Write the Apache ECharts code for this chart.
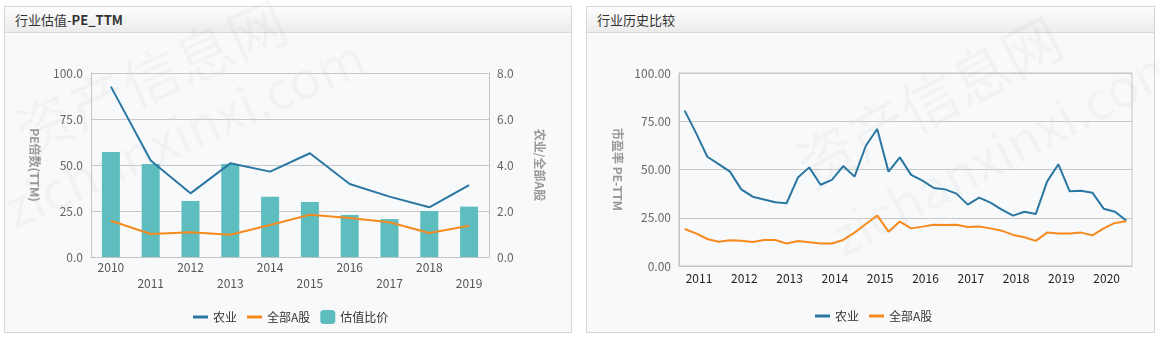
<!DOCTYPE html>
<html>
<head>
<meta charset="utf-8">
<script src="https://cdn.jsdelivr.net/npm/echarts@6/dist/echarts.min.js"></script>
<style>
  html, body { margin: 0; padding: 0; background: #ffffff; }
  body { width: 1159px; height: 339px; position: relative; overflow: hidden;
         font-family: "Microsoft YaHei", "Noto Sans CJK SC", "Noto Sans", sans-serif; }
  .panel { position: absolute; border: 1px solid #d6d6d6; background: #f8f9fb; box-sizing: border-box; }
  .panel .head { position: absolute; left: 0; right: 0; top: 0; height: 25px;
                 background: linear-gradient(#fdfdfd, #ececec); border-bottom: 1px solid #d9d9d9;
                 font-size: 13px; color: #333; line-height: 25px; padding-left: 10px; }
  .wm { position: absolute; color: rgba(0,0,0,0.028); white-space: nowrap; transform-origin: 0 0;
        font-family: "Noto Sans CJK SC", "Noto Sans", sans-serif; pointer-events: none; }
  #chart { position: absolute; left: 0; top: 0; width: 1159px; height: 339px; }
</style>
</head>
<body>
<div class="panel" style="left:4px; top:6px; width:568px; height:327px;">
  <div class="head">行业估值-<b>PE_TTM</b></div>
</div>
<div class="panel" style="left:586px; top:6px; width:569px; height:327px;">
  <div class="head">行业历史比较</div>
</div>
<div class="wm" style="left:0px; top:95px; font-size:58px; transform:rotate(-24deg);">资产信息网</div>
<div class="wm" style="left:-10px; top:175px; font-size:52px; transform:rotate(-24deg);">zichanxinxi.com</div>
<div class="wm" style="left:780px; top:130px; font-size:58px; transform:rotate(-28deg);">资产信息网</div>
<div class="wm" style="left:815px; top:205px; font-size:52px; transform:rotate(-28deg);">zichanxinxi.com</div>
<div id="chart"></div>
<script>
// Annual valuation (left panel)
const valYears = ['2010', '2011', '2012', '2013', '2014', '2015', '2016', '2017', '2018', '2019'];
const valAgri = [92.6, 52.4, 34.6, 50.9, 46.4, 56.4, 39.7, 32.8, 27.0, 39.0];
const valAllA = [19.7, 12.5, 13.4, 12.1, 17.4, 23.0, 21.2, 18.9, 13.0, 17.0];
const valRatio = [4.57, 4.04, 2.43, 4.04, 2.62, 2.39, 1.83, 1.65, 2.00, 2.19];

// Quarterly history (right panel)
const histQuarters = [
  '2011-03', '2011-06', '2011-09', '2011-12', '2012-03', '2012-06', '2012-09', '2012-12',
  '2013-03', '2013-06', '2013-09', '2013-12', '2014-03', '2014-06', '2014-09', '2014-12',
  '2015-03', '2015-06', '2015-09', '2015-12', '2016-03', '2016-06', '2016-09', '2016-12',
  '2017-03', '2017-06', '2017-09', '2017-12', '2018-03', '2018-06', '2018-09', '2018-12',
  '2019-03', '2019-06', '2019-09', '2019-12', '2020-03', '2020-06', '2020-09', '2020-12'
];
const histAgri = [
  80.5, 69.0, 56.6, 52.8, 48.9, 39.7, 35.9, 34.5, 33.0, 32.5,
  45.8, 51.1, 42.1, 44.6, 51.8, 46.3, 62.3, 71.0, 48.9, 56.3,
  47.2, 44.2, 40.4, 39.7, 37.5, 31.8, 35.4, 32.8, 29.2, 26.1,
  28.1, 26.9, 43.7, 52.7, 38.7, 39.0, 38.0, 29.7, 28.1, 23.5
];
const histAllA = [
  19.2, 16.9, 14.0, 12.6, 13.3, 13.1, 12.4, 13.5, 13.5, 11.7,
  13.0, 12.3, 11.6, 11.7, 13.5, 17.3, 21.8, 26.2, 17.8, 23.0,
  19.5, 20.4, 21.4, 21.2, 21.4, 20.2, 20.5, 19.5, 18.3, 16.1,
  14.9, 13.0, 17.3, 16.9, 16.8, 17.3, 15.9, 19.5, 22.3, 23.2
];

const BLUE = '#2a77a2';
const ORANGE = '#f68a1e';
const TEAL = '#5ebdbe';
const AXIS = '#c4c4c4';
const FONT = '"Microsoft YaHei", "Noto Sans CJK SC", "Noto Sans", sans-serif';
const LINE_ICON = 'path://M0,0H15V3H0Z';

const chart = echarts.init(document.getElementById('chart'), null, { renderer: 'canvas' });

const nameStyle = { color: '#999', fontSize: 12, fontWeight: 'bold', fontFamily: FONT };

chart.setOption({
  backgroundColor: 'transparent',
  animation: false,
  textStyle: { fontFamily: FONT },
  grid: [
    { left: 91, top: 73, width: 398, height: 184 },
    { left: 679, top: 73, width: 453, height: 193, show: true,
      borderColor: AXIS, borderWidth: 1, backgroundColor: 'transparent' }
  ],
  legend: [
    { left: 188, top: 305, itemWidth: 15, itemHeight: 14, itemGap: 10, symbolKeepAspect: true,
      data: [{ name: '农业', icon: LINE_ICON }, { name: '全部A股', icon: LINE_ICON }, { name: '估值比价', icon: 'roundRect' }],
      textStyle: { color: '#333', fontSize: 12 } },
    { left: 810, top: 305, itemWidth: 15, itemHeight: 14, itemGap: 10, symbolKeepAspect: true,
      data: [{ name: '农业', icon: LINE_ICON }, { name: '全部A股', icon: LINE_ICON }],
      textStyle: { color: '#333', fontSize: 12 } }
  ],
  xAxis: [
    {
      gridIndex: 0, type: 'category', data: valYears, boundaryGap: true,
      axisLine: { lineStyle: { color: AXIS } },
      axisTick: { alignWithLabel: true, length: 5, interval: (i) => i % 2 === 1, lineStyle: { color: AXIS } },
      axisLabel: { interval: 0, color: '#555', fontSize: 12, lineHeight: 16, margin: 2,
                   formatter: (v, i) => (i % 2 ? '\n' + v : v) }
    },
    {
      gridIndex: 1, type: 'category', data: histQuarters, boundaryGap: true,
      axisLine: { lineStyle: { color: AXIS } },
      axisTick: { alignWithLabel: true, length: 5, interval: (i) => i % 4 === 3, lineStyle: { color: AXIS } },
      axisLabel: { interval: (i) => i % 4 === 1, color: '#222', fontSize: 12, margin: 6,
                   padding: [0, 0, 0, 6], formatter: (v) => v.slice(0, 4) }
    }
  ],
  yAxis: [
    {
      gridIndex: 0, type: 'value', min: 0, max: 100, interval: 25,
      name: 'PE倍数(TTM)', nameLocation: 'middle', nameRotate: -90, nameGap: 50, nameTextStyle: nameStyle,
      axisLine: { show: true, lineStyle: { color: AXIS } },
      axisTick: { show: false },
      splitLine: { lineStyle: { color: '#c8c8c8' } },
      axisLabel: { color: '#666', fontSize: 12, margin: 8, formatter: (v) => v.toFixed(1) }
    },
    {
      gridIndex: 0, type: 'value', position: 'right', min: 0, max: 8, interval: 2,
      name: '农业/全部A股', nameLocation: 'middle', nameRotate: -90, nameGap: 45, nameTextStyle: nameStyle,
      axisLine: { show: true, lineStyle: { color: AXIS } },
      axisTick: { show: false },
      splitLine: { show: false },
      axisLabel: { color: '#666', fontSize: 12, margin: 8, formatter: (v) => v.toFixed(1) }
    },
    {
      gridIndex: 1, type: 'value', min: 0, max: 100, interval: 25,
      name: '市盈率 PE-TTM', nameLocation: 'middle', nameRotate: -90, nameGap: 55, nameTextStyle: nameStyle,
      axisLine: { show: true, lineStyle: { color: AXIS } },
      axisTick: { show: false },
      splitLine: { lineStyle: { color: '#c8c8c8' } },
      axisLabel: { color: '#666', fontSize: 12, margin: 8, formatter: (v) => v.toFixed(2) }
    }
  ],
  series: [
    { name: '估值比价', type: 'bar', xAxisIndex: 0, yAxisIndex: 1, data: valRatio,
      barWidth: 18, itemStyle: { color: TEAL }, z: 1 },
    { name: '农业', type: 'line', xAxisIndex: 0, yAxisIndex: 0, data: valAgri,
      symbol: 'none', itemStyle: { color: BLUE }, lineStyle: { color: BLUE, width: 2 }, z: 3 },
    { name: '全部A股', type: 'line', xAxisIndex: 0, yAxisIndex: 0, data: valAllA,
      symbol: 'none', itemStyle: { color: ORANGE }, lineStyle: { color: ORANGE, width: 2 }, z: 3 },
    { name: '农业', type: 'line', xAxisIndex: 1, yAxisIndex: 2, data: histAgri,
      symbol: 'none', itemStyle: { color: BLUE }, lineStyle: { color: BLUE, width: 2 }, z: 3 },
    { name: '全部A股', type: 'line', xAxisIndex: 1, yAxisIndex: 2, data: histAllA,
      symbol: 'none', itemStyle: { color: ORANGE }, lineStyle: { color: ORANGE, width: 2 }, z: 3 }
  ]
});
</script>
</body>
</html>
